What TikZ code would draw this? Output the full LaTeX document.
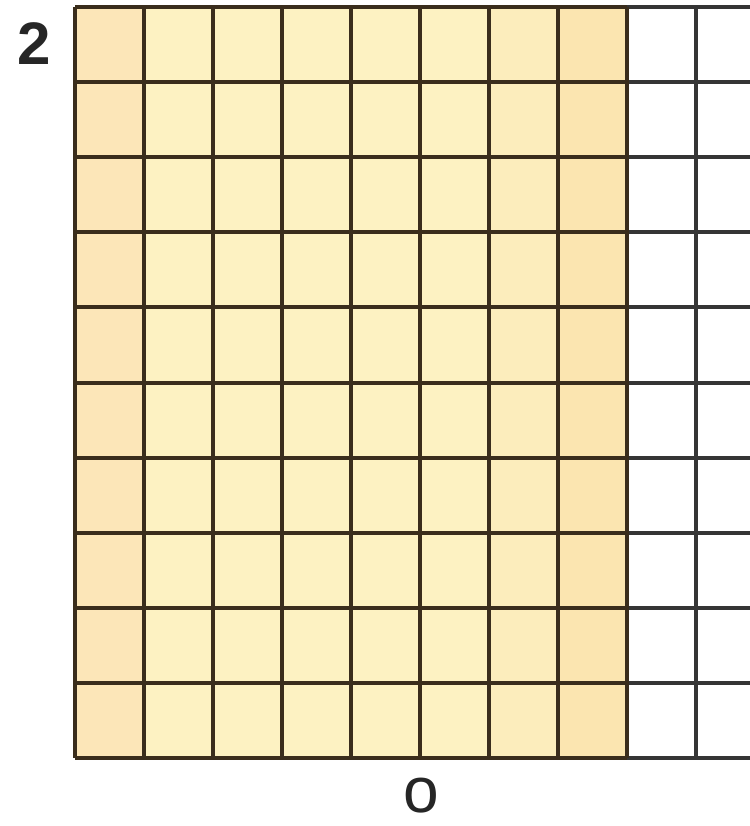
\documentclass[tikz,border=0pt]{standalone}
\usepackage{fontspec}
\setmainfont{Liberation Sans}
\definecolor{cellY}{HTML}{FDF2C2}
\definecolor{cellA}{HTML}{FCE6B8}
\definecolor{cellB}{HTML}{FBE5B0}
\definecolor{cellC}{HTML}{FCEDBC}
\definecolor{gridB}{HTML}{3A2D1C}
\definecolor{gridG}{HTML}{353535}
\tikzset{
  gridline/.style={line width=4pt, draw=gridB},
  greyline/.style={line width=4pt, draw=gridG},
  lab/.style={font=\fontsize{60}{60}\selectfont, text=black!85, inner sep=0pt}
}
\begin{document}
\begin{tikzpicture}[x=1pt,y=-1pt]
\useasboundingbox (0,0) rectangle (749,826);
\fill[white] (0,0) rectangle (749,826);
% coloured cells
\fill[cellY] (75,7) rectangle (627,758);
\fill[cellA] (75,7) rectangle (144,758);
\fill[cellC] (489,7) rectangle (558,758);
\fill[cellB] (558,7) rectangle (627,758);
% horizontal lines
\foreach \y in {7,82.1,157.2,232.3,307.4,382.5,457.6,532.7,607.8,682.9,758} {
  \draw[gridline] (75,\y) -- (627,\y);
  \draw[greyline] (627,\y) -- (760,\y);
}
% vertical lines
\foreach \x in {75,144,213,282,351,420,489,558,627} {
  \draw[gridline] (\x,7) -- (\x,758);
}
\draw[greyline] (696,7) -- (696,758);
\node[lab] (two) at (34,44) {\bfseries 2};
\node[lab, font=\fontsize{64}{64}\selectfont] (o) at (421,796) {o};
\end{tikzpicture}
\end{document}
